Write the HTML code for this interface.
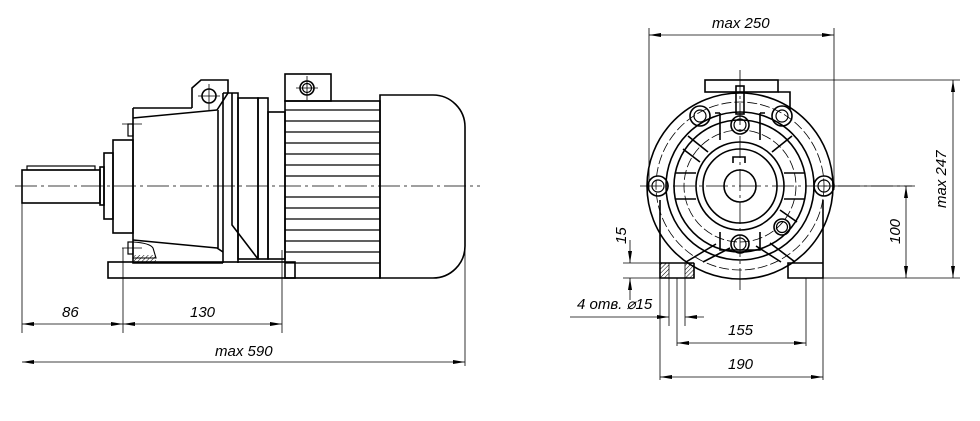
<!DOCTYPE html>
<html><head><meta charset="utf-8"><style>
html,body{margin:0;padding:0;background:#fff;width:980px;height:421px;overflow:hidden}
text{font-family:"Liberation Sans",sans-serif;font-style:italic;font-size:15px;fill:#000}
</style></head><body>
<svg width="980" height="421" viewBox="0 0 980 421" xmlns="http://www.w3.org/2000/svg">
<defs>
<marker id="a" viewBox="0 0 12 4" refX="12" refY="2" markerWidth="12" markerHeight="4" orient="auto-start-reverse" markerUnits="userSpaceOnUse"><path d="M0,0 L12,2 L0,4z" fill="#000"/></marker>
<pattern id="h" width="3" height="3" patternUnits="userSpaceOnUse" patternTransform="rotate(45)"><line x1="0" y1="0" x2="0" y2="3" stroke="#000" stroke-width="1"/></pattern>
</defs>
<g fill="none" stroke="#000" stroke-width="1.6">
<!-- LEFT VIEW -->
<rect x="27" y="166" width="68" height="4" stroke-width="1.2"/>
<rect x="22" y="170" width="78" height="33"/>
<rect x="100" y="167" width="4" height="38"/>
<rect x="104" y="153" width="9" height="66"/>
<rect x="113" y="140" width="20" height="93"/>
<path d="M133,108 H192 M133,108 V263 H223"/>
<path d="M133,118 L217,110 M133,240 L217,248 L223,252"/>
<path d="M218,110 V248"/>
<rect x="128" y="124" width="5" height="12" stroke-width="1.2"/>
<rect x="128" y="242" width="5" height="12" stroke-width="1.2"/>
<path d="M133,242 Q150,243 153,248 L156,258 H133" stroke-width="1.1"/>
<rect x="134" y="255" width="22" height="7" fill="url(#h)" stroke="none"/>
<path d="M192,108 V88 L201,80 H228 V93 L217,110"/>
<circle cx="209" cy="96" r="7"/>
<path d="M223,93 H238 V263 M223,93 V263"/>
<path d="M232,93 V225 L258,259"/>
<rect x="238" y="98" width="20" height="161"/>
<rect x="258" y="98" width="10" height="161"/>
<rect x="268" y="112" width="17" height="147"/>
<rect x="108" y="262" width="187" height="16"/>
<rect x="285" y="74" width="46" height="27"/>
<circle cx="307" cy="88" r="7"/><circle cx="307" cy="88" r="4.5" stroke-width="1.2"/>
<rect x="285" y="101" width="95" height="177"/>
<g stroke-width="1.3">
<path d="M285,110H380M285,121H380M285,132H380M285,143H380M285,154H380M285,165H380M285,176H380M285,197H380M285,208H380M285,219H380M285,230H380M285,241H380M285,252H380M285,263H380"/>
</g>
<path d="M380,95 H433 A32,32 0 0 1 465,127 V246 A32,32 0 0 1 433,278 H380 Z"/>
</g>
<g fill="none" stroke="#000" stroke-width="0.8">
<path d="M15,186 H480" stroke-dasharray="22,4,3,4"/>
<path d="M209,84 V110 M198,96 H220 M307,76 V100 M296,88 H318" />
<path d="M22,203 V333 M123,248 V333 M282,250 V333 M465,250 V366"/>
<path d="M122,124 H142 M122,248 H142"/>
<line x1="22" y1="324" x2="123" y2="324" marker-start="url(#a)" marker-end="url(#a)"/>
<line x1="123" y1="324" x2="282" y2="324" marker-start="url(#a)" marker-end="url(#a)"/>
<line x1="22" y1="362" x2="465" y2="362" marker-start="url(#a)" marker-end="url(#a)"/>
</g>
<text x="62" y="317">86</text>
<text x="190" y="317">130</text>
<text x="215" y="356">max 590</text>

<!-- RIGHT VIEW -->
<g fill="none" stroke="#000" stroke-width="1.6">
<rect x="705" y="80" width="73" height="12"/>
<path d="M778,92 H790 V110"/>
<circle cx="740" cy="186" r="93"/>
<path d="M660,200 V278 H694 V263 M660,263 H694"/>
<path d="M823,200 V278 H788 V263 H823"/>
<circle cx="740" cy="186" r="74"/>
<circle cx="740" cy="186" r="66"/>
<circle cx="740" cy="186" r="44"/>
<circle cx="740" cy="186" r="37"/>
<path d="M733,163 V157 H745 V163"/>
<circle cx="740" cy="186" r="16"/>
<rect x="736" y="86" width="8" height="28"/>
<path d="M720,113 V140 M760,113 V140 M720,113 H715 M760,113 H765 M720,232 V250 H760 V232"/>
<path d="M676,173 H696 M676,199 H696 M784,173 H804 M784,199 H804"/>
<path d="M688,136 L708,152 M683,149 L700,162 M792,136 L772,152 M797,222 L780,210"/>
<path d="M686,262 L716,244 M703,262 L730,248 M795,262 L770,243 M781,262 L756,246"/>
<circle cx="740" cy="125" r="9"/><circle cx="740" cy="125" r="6" stroke-width="1.2"/>
<circle cx="740" cy="244" r="9"/><circle cx="740" cy="244" r="6" stroke-width="1.2"/>
<circle cx="782" cy="227" r="8"/><circle cx="782" cy="227" r="5.5" stroke-width="1.2"/>
<circle cx="700" cy="116" r="10"/><circle cx="700" cy="116" r="6" stroke-width="1.2"/>
<circle cx="782" cy="116" r="10"/><circle cx="782" cy="116" r="6" stroke-width="1.2"/>
<circle cx="658" cy="186" r="10"/><circle cx="658" cy="186" r="6" stroke-width="1.2"/>
<circle cx="824" cy="186" r="10"/><circle cx="824" cy="186" r="6" stroke-width="1.2"/>
</g>
<rect x="660" y="263" width="9" height="15" fill="url(#h)" stroke="#000" stroke-width="0.8"/>
<rect x="685" y="263" width="9" height="15" fill="url(#h)" stroke="#000" stroke-width="0.8"/>
<g fill="none" stroke="#000" stroke-width="0.8">
<circle cx="740" cy="186" r="84" stroke-dasharray="10,3"/>
<circle cx="740" cy="186" r="56" stroke-dasharray="10,3"/>
<path d="M640,186 H915 M740,70 V290" stroke-dasharray="22,4,3,4"/>
<path d="M649,28 V190 M834,28 V190"/>
<line x1="649" y1="35" x2="834" y2="35" marker-start="url(#a)" marker-end="url(#a)"/>
<path d="M778,80 H960 M823,278 H960 M824,186 H912"/>
<line x1="953" y1="80" x2="953" y2="278" marker-start="url(#a)" marker-end="url(#a)"/>
<line x1="906" y1="186" x2="906" y2="278" marker-start="url(#a)" marker-end="url(#a)"/>
<path d="M623,263 H660 M623,278 H660"/>
<line x1="630" y1="240" x2="630" y2="263" marker-end="url(#a)"/>
<line x1="630" y1="300" x2="630" y2="278" marker-end="url(#a)"/>
<path d="M669,278 V326 M685,278 V326 M677,278 V346 M806,278 V346 M660,278 V380 M823,278 V380"/>
<line x1="570" y1="317" x2="669" y2="317" marker-end="url(#a)"/>
<line x1="704" y1="317" x2="685" y2="317" marker-end="url(#a)"/>
<line x1="677" y1="343" x2="806" y2="343" marker-start="url(#a)" marker-end="url(#a)"/>
<line x1="660" y1="377" x2="823" y2="377" marker-start="url(#a)" marker-end="url(#a)"/>
</g>
<text x="712" y="28">max 250</text>
<text x="577" y="309">4 отв. ⌀15</text>
<text x="728" y="335">155</text>
<text x="728" y="369">190</text>
<text transform="translate(626,244) rotate(-90)">15</text>
<text transform="translate(900,244) rotate(-90)">100</text>
<text transform="translate(946,208) rotate(-90)">max 247</text>
</svg>
</body></html>
